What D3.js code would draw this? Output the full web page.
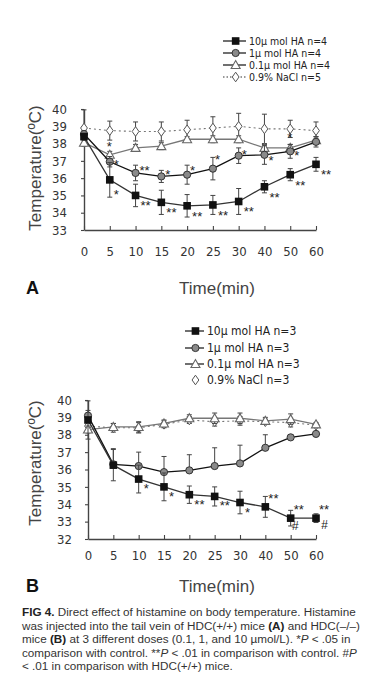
<!DOCTYPE html>
<html><head><meta charset="utf-8">
<script src="https://cdnjs.cloudflare.com/ajax/libs/d3/7.8.5/d3.min.js"></script>
<style>
html,body{margin:0;padding:0;background:#fff;}
svg{display:block;}
.cond{font-family:'DejaVu Sans',sans-serif;font-stretch:condensed;}
</style></head>
<body><div id="chart"></div>
<script>
// ---------- DATA ----------
const times = ["0","5","10","15","20","25","30","40","50","60"];
const yTicksA = [33,34,35,36,37,38,39,40];
const yTicksB = [32,33,34,35,36,37,38,39,40];

// Panel A: HDC(+/+)
const a10 = [38.4, 35.9, 35.0, 34.6, 34.4, 34.45, 34.65, 35.5, 36.2, 36.8];
const a10Err = [0.2, 1.0, 0.65, 0.7, 0.65, 0.55, 0.75, 0.35, 0.35, 0.4];
const a1 = [38.55, 36.95, 36.3, 36.1, 36.2, 36.55, 37.3, 37.35, 37.55, 38.1];
const a1Err = [0.2, 0.3, 0.45, 0.35, 0.55, 0.65, 0.45, 0.55, 0.4, 0.3];
const a01 = [38.05, 37.35, 37.75, 37.85, 38.25, 38.25, 38.25, 37.75, 37.75, 38.2];
const a01Err = [0.2, 0.2, 0.2, 0.2, 0.15, 0.2, 0.2, 0.2, 0.2, 0.2];
const aNaCl = [38.9, 38.75, 38.7, 38.7, 38.8, 38.9, 39.0, 38.85, 38.85, 38.75];
const aNaClErr = [1.05, 0.55, 0.55, 0.55, 0.55, 0.65, 0.75, 0.85, 0.5, 0.5];
const aSig10 = ["", "*", "**", "**", "**", "**", "**", "**", "**", "**"];
const aSig1 = ["", "*", "**", "*", "*", "*", "*", "*", "*", ""];
const aSig01 = ["", "*", "", "", "", "", "", "", "*", ""];

// Panel B: HDC(-/-)
const b10 = [38.85, 36.25, 35.45, 35.0, 34.55, 34.45, 34.1, 33.85, 33.2, 33.2];
const b10Err = [1.1, 0.9, 0.8, 0.8, 0.5, 0.55, 0.65, 0.6, 0.45, 0.25];
const b1 = [39.1, 36.3, 36.2, 35.85, 35.95, 36.2, 36.35, 37.25, 37.85, 38.05];
const b1Err = [0.3, 0.9, 0.8, 0.9, 0.9, 1.05, 1.05, 0.75, 0.15, 0.1];
const b01 = [38.3, 38.45, 38.45, 38.65, 38.95, 38.95, 38.95, 38.8, 38.9, 38.6];
const b01Err = [0.2, 0.2, 0.3, 0.2, 0.2, 0.3, 0.3, 0.2, 0.3, 0.1];
const bNaCl = [38.5, 38.4, 38.4, 38.6, 38.85, 38.75, 38.8, 38.75, 38.7, 38.55];
const bNaClErr = [0.2, 0.25, 0.3, 0.2, 0.2, 0.25, 0.25, 0.15, 0.25, 0.1];
const bSig10 = ["", "", "*", "*", "**", "**", "*", "**", "**", "**"];
const bHash10 = ["", "", "", "", "", "", "", "", "#", "#"];

const legendA = ["10\u03bc mol HA n=4", "1\u03bc mol HA n=4", "0.1\u03bc mol HA n=4", "0.9% NaCl n=5"];
const legendB = ["10\u03bc mol HA n=3", "1\u03bc mol HA n=3", "0.1\u03bc mol HA n=3", "0.9% NaCl n=3"];
const xTitle = "Time(min)";
const yTitle = "Temperature(\u00baC)";

// ---------- DRAW ----------
const W = 376, H = 696;
const svg = d3.select("#chart").append("svg").attr("width", W).attr("height", H)
  .style("background", "#fff");
const textFont = "'Liberation Sans',Arial,sans-serif";

const styles = {
  sq:  {line: "#333", dash: null, fill: "#111", stroke: "#111"},
  ci:  {line: "#111", dash: null, fill: "#8a8a8a", stroke: "#333"},
  tr:  {line: "#777", dash: null, fill: "#fff", stroke: "#666"},
  di:  {line: "#777", dash: "2,3", fill: "#fff", stroke: "#555"}
};

function marker(g, kind, x, y) {
  const s = styles[kind];
  if (kind === "sq") {
    g.append("rect").attr("x", x - 3.8).attr("y", y - 3.8).attr("width", 7.6).attr("height", 7.6)
      .attr("fill", s.fill);
  } else if (kind === "ci") {
    g.append("circle").attr("cx", x).attr("cy", y).attr("r", 3.6)
      .attr("fill", s.fill).attr("stroke", s.stroke).attr("stroke-width", 1);
  } else if (kind === "tr") {
    g.append("path").attr("d", `M${x},${y-4.5}L${x+4.5},${y+3.5}L${x-4.5},${y+3.5}Z`)
      .attr("fill", s.fill).attr("stroke", s.stroke).attr("stroke-width", 1.1);
  } else {
    g.append("path").attr("d", `M${x},${y-4.8}L${x+3.4},${y}L${x},${y+4.8}L${x-3.4},${y}Z`)
      .attr("fill", s.fill).attr("stroke", s.stroke).attr("stroke-width", 1);
  }
}

function panel(cfg) {
  const g = svg.append("g");
  const x = d3.scalePoint().domain(times).range(cfg.xr);
  const y = d3.scaleLinear().domain(cfg.yd).range(cfg.yr);

  // axes
  const ya = g.append("g").attr("transform", `translate(${cfg.xr[0]},0)`)
    .call(d3.axisLeft(y).tickValues(cfg.yTicks).tickSize(3).tickSizeOuter(0).tickPadding(cfg.yPad).tickFormat(d3.format("d")));
  const xa = g.append("g").attr("transform", `translate(0,${cfg.yr[0]})`)
    .call(d3.axisBottom(x).tickSize(-4).tickSizeOuter(0).tickPadding(cfg.xPad));
  [ya, xa].forEach(a => {
    a.select(".domain").attr("stroke", "#444").attr("stroke-width", 1.4);
    a.selectAll(".tick line").attr("stroke", "#444").attr("stroke-width", 1.1);
    a.selectAll("text").attr("font-family", null).attr("class", "cond").attr("font-size", 13).attr("fill", "#333");
  });
  ya.attr("font-family", null); xa.attr("font-family", null);

  // series (drawn back to front)
  cfg.series.forEach(sr => {
    const st = styles[sr.kind];
    const pts = sr.v.map((v, i) => [x(times[i]), y(v)]);
    sr.e.forEach((e, i) => {
      const cx = pts[i][0];
      const top = y(sr.v[i] + e), bot = sr.up ? pts[i][1] : y(sr.v[i] - e);
      g.append("line").attr("x1", cx).attr("x2", cx).attr("y1", top).attr("y2", bot)
        .attr("stroke", "#444").attr("stroke-width", 1);
      g.append("line").attr("x1", cx - 2.5).attr("x2", cx + 2.5).attr("y1", top).attr("y2", top)
        .attr("stroke", "#444").attr("stroke-width", 1);
      if (!sr.up) g.append("line").attr("x1", cx - 2.5).attr("x2", cx + 2.5).attr("y1", bot).attr("y2", bot)
        .attr("stroke", "#444").attr("stroke-width", 1);
    });
    g.append("path").attr("d", d3.line()(pts)).attr("fill", "none")
      .attr("stroke", st.line).attr("stroke-width", sr.kind === "di" ? 1.1 : 1.3)
      .attr("stroke-dasharray", st.dash);
    pts.forEach(p => marker(g, sr.kind, p[0], p[1]));
    (sr.sig || []).forEach((t, i) => {
      if (!t) return;
      const o = sr.off(i);
      g.append("text").attr("x", pts[i][0] + o[0]).attr("y", pts[i][1] + o[1])
        .attr("font-family", textFont).attr("font-size", 13).attr("fill", "#222").text(t);
    });
    (sr.hash || []).forEach((t, i) => {
      if (!t) return;
      const o = sr.hoff(i);
      g.append("text").attr("x", pts[i][0] + o[0]).attr("y", pts[i][1] + o[1])
        .attr("font-family", textFont).attr("font-style", "italic").attr("font-size", 12).attr("fill", "#222").text(t);
    });
  });

  // titles
  g.append("text").attr("x", 217).attr("y", cfg.xTitleY).attr("text-anchor", "middle")
    .attr("font-family", textFont).attr("font-size", 17).attr("fill", "#444").text(xTitle);
  g.append("text").attr("transform", `translate(41,${cfg.yTitleC}) rotate(-90)`).attr("text-anchor", "middle")
    .attr("font-family", textFont).attr("font-size", 17).attr("fill", "#444").text(yTitle);
  g.append("text").attr("x", 26).attr("y", cfg.xTitleY).attr("font-family", textFont)
    .attr("font-weight", "bold").attr("font-size", 18).attr("fill", "#111").text(cfg.letter);

  // legend
  const kinds = ["sq", "ci", "tr", "di"];
  cfg.legend.forEach((t, i) => {
    const ly = cfg.legY[i];
    if (!(cfg.noNaClLine && i === 3)) {
      g.append("line").attr("x1", cfg.legX[0]).attr("x2", cfg.legX[1]).attr("y1", ly).attr("y2", ly)
        .attr("stroke", i === 3 ? "#777" : "#222").attr("stroke-width", 1.3).attr("stroke-dasharray", i === 3 ? "1.5,2" : null);
    }
    marker(g, kinds[i], cfg.legX[0] + (cfg.legX[1] - cfg.legX[0]) * 0.55, ly);
    g.append("text").attr("class", "cond").attr("x", cfg.legX[1] + 3).attr("y", ly + 4)
      .attr("font-size", cfg.legFs).attr("fill", "#222").text(t);
  });
}

// Panel A
const offA1 = [[0,0],[4,7],[4,2],[4,3],[3,0],[2,-5],[3,3],[4,10],[4,9],[0,0]];
panel({
  xr: [84, 316], yd: [33, 40], yr: [230, 109], yTicks: yTicksA, yPad: 14, xPad: 17,
  xTitleY: 294, yTitleC: 168, letter: "A",
  legend: legendA, legX: [223, 246], legY: [41, 53, 65, 77], legFs: 10.5,
  series: [
    {kind: "di", v: aNaCl, e: aNaClErr},
    {kind: "tr", v: a01, e: a01Err, sig: aSig01, off: i => [-3, i === 1 ? -4 : -6]},
    {kind: "ci", v: a1, e: a1Err, sig: aSig1, off: i => offA1[i]},
    {kind: "sq", v: a10, e: a10Err, sig: aSig10, off: i => i === 1 ? [4, 19] : [5, 15]}
  ]
});

// Panel B
panel({
  xr: [88, 316], yd: [32, 40], yr: [539, 400], yTicks: yTicksB, yPad: 13, xPad: 12,
  xTitleY: 592, yTitleC: 463, letter: "B",
  legend: legendB, legX: [185, 204], legY: [331, 348, 364, 380], legFs: 12, noNaClLine: true,
  series: [
    {kind: "di", v: bNaCl, e: bNaClErr},
    {kind: "tr", v: b01, e: b01Err},
    {kind: "ci", v: b1, e: b1Err, up: true},
    {kind: "sq", v: b10, e: b10Err, sig: bSig10, hash: bHash10,
      off: i => i >= 7 ? [3, -4] : [5, 14], hoff: i => i === 8 ? [1, 12] : [5, 11]}
  ]
});

// Caption
const cap = svg.append("text").attr("font-family", textFont).attr("font-size", 11.7).attr("fill", "#333");
const lines = [
  [["FIG 4.", "b"], [" Direct effect of histamine on body temperature. Histamine", ""]],
  [["was injected into the tail vein of HDC(+/+) mice ", ""], ["(A)", "b"], [" and HDC(\u2013/\u2013)", ""]],
  [["mice ", ""], ["(B)", "b"], [" at 3 different doses (0.1, 1, and 10 \u00b5mol/L). *", ""], ["P", "i"], [" < .05 in", ""]],
  [["comparison with control. **", ""], ["P", "i"], [" < .01 in comparison with control. #", ""], ["P", "i"]],
  [["< .01 in comparison with HDC(+/+) mice.", ""]]
];
lines.forEach((ln, li) => {
  const t = cap.append("tspan").attr("x", 22).attr("y", 616 + li * 13.6);
  ln.forEach(([s, f], k) => {
    const sp = k === 0 ? t : cap.append("tspan");
    sp.text(s);
    if (f === "b") sp.attr("font-weight", "bold").attr("fill", "#222");
    if (f === "i") sp.attr("font-style", "italic");
  });
});
</script></body></html>
